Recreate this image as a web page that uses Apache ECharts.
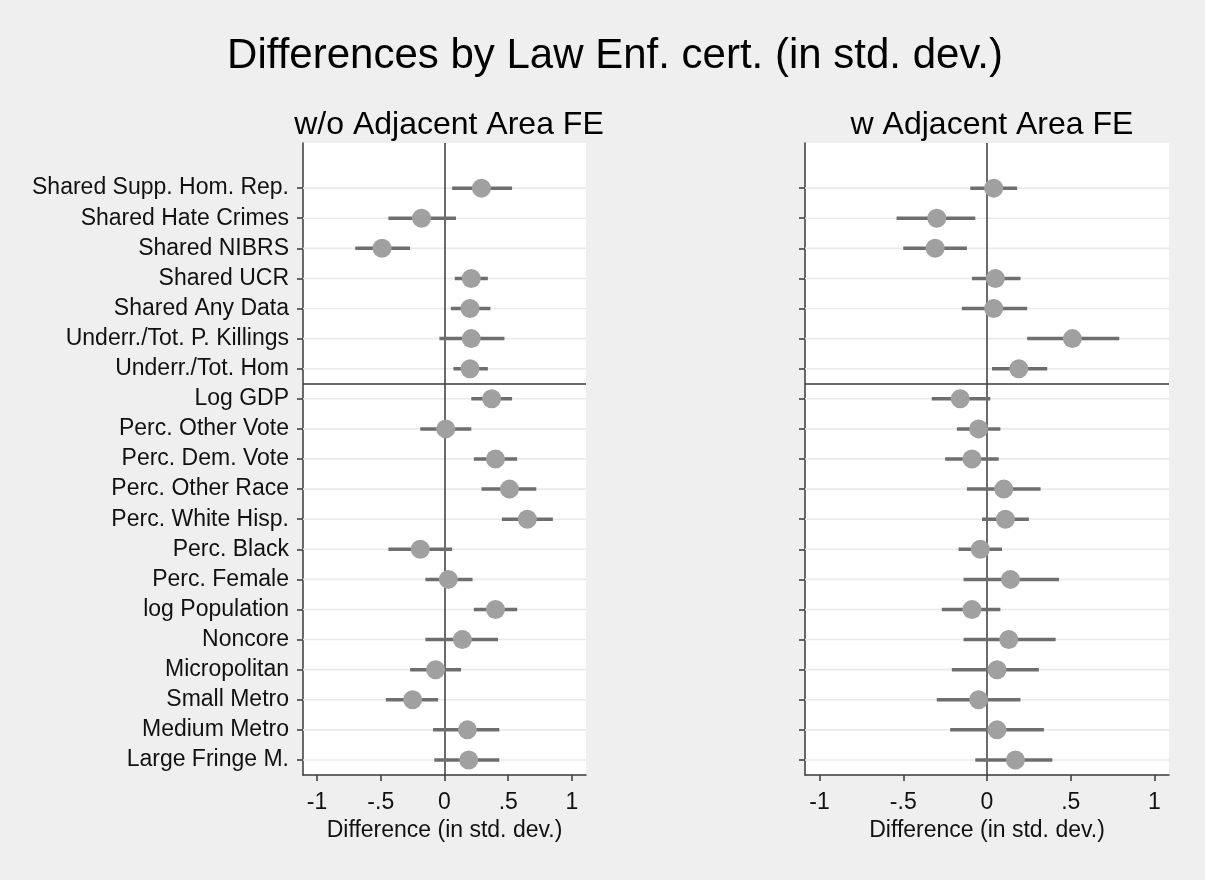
<!DOCTYPE html>
<html>
<head>
<meta charset="utf-8">
<script src="https://cdn.jsdelivr.net/npm/echarts@6/dist/echarts.min.js"></script>
<style>
html,body{margin:0;padding:0;background:#efefef;}
#chart{width:1205px;height:880px;}
</style>
</head>
<body>
<div id="chart"></div>
<script>
// ---- data ----
var categories = [
  "Shared Supp. Hom. Rep.", "Shared Hate Crimes", "Shared NIBRS", "Shared UCR",
  "Shared Any Data", "Underr./Tot. P. Killings", "Underr./Tot. Hom", "Log GDP",
  "Perc. Other Vote", "Perc. Dem. Vote", "Perc. Other Race", "Perc. White Hisp.",
  "Perc. Black", "Perc. Female", "log Population", "Noncore", "Micropolitan",
  "Small Metro", "Medium Metro", "Large Fringe M."
];
// panel 1: w/o Adjacent Area FE
var estLeft = [0.29, -0.18, -0.49, 0.21, 0.20, 0.21, 0.20, 0.37, 0.01, 0.40, 0.51, 0.65, -0.19, 0.03, 0.40, 0.14, -0.07, -0.25, 0.18, 0.19];
var loLeft  = [0.06, -0.44, -0.70, 0.08, 0.05, -0.04, 0.07, 0.21, -0.19, 0.23, 0.29, 0.45, -0.44, -0.15, 0.23, -0.15, -0.27, -0.46, -0.09, -0.08];
var hiLeft  = [0.53, 0.09, -0.27, 0.34, 0.36, 0.47, 0.34, 0.53, 0.21, 0.57, 0.72, 0.85, 0.06, 0.22, 0.57, 0.42, 0.13, -0.05, 0.43, 0.43];
// panel 2: w Adjacent Area FE
var estRight = [0.04, -0.30, -0.31, 0.05, 0.04, 0.51, 0.19, -0.16, -0.05, -0.09, 0.10, 0.11, -0.04, 0.14, -0.09, 0.13, 0.06, -0.05, 0.06, 0.17];
var loRight  = [-0.10, -0.54, -0.50, -0.09, -0.15, 0.24, 0.03, -0.33, -0.18, -0.25, -0.12, -0.03, -0.17, -0.14, -0.27, -0.14, -0.21, -0.30, -0.22, -0.07];
var hiRight  = [0.18, -0.07, -0.12, 0.20, 0.24, 0.79, 0.36, 0.02, 0.08, 0.07, 0.32, 0.25, 0.09, 0.43, 0.08, 0.41, 0.31, 0.20, 0.34, 0.39];
var xTicks = [-1, -0.5, 0, 0.5, 1];
var xTickLabels = ["-1", "-.5", "0", ".5", "1"];
var separatorAfter = 6.5;

var rowIdx = categories.map(function(c, i){ return i; });
var FONT = "Liberation Sans, Arial, sans-serif";

function ciData(lo, hi){ return lo.map(function(l, i){ return [l, hi[i], i]; }); }
function ptData(est){ return est.map(function(v, i){ return [v, i]; }); }

function ciSeries(idx, lo, hi){
  return {
    type: 'custom', xAxisIndex: idx, yAxisIndex: idx, z: 3,
    data: ciData(lo, hi),
    encode: {x: [0, 1], y: 2},
    renderItem: function(params, api){
      var a = api.coord([api.value(0), api.value(2)]);
      var b = api.coord([api.value(1), api.value(2)]);
      return {type: 'line', shape: {x1: a[0], y1: a[1], x2: b[0], y2: b[1]},
        style: {stroke: '#6e6e6e', lineWidth: 3.5}};
    }
  };
}
function ptSeries(idx, est){
  return {
    type: 'scatter', xAxisIndex: idx, yAxisIndex: idx, z: 4,
    data: ptData(est), symbol: 'circle', symbolSize: 19,
    itemStyle: {color: '#a0a0a0', opacity: 1},
    markLine: {
      silent: true, symbol: 'none', z: 2,
      label: {show: false},
      lineStyle: {color: '#3a3a3a', width: 1.5, type: 'solid'},
      data: [{xAxis: 0}, {yAxis: separatorAfter}]
    }
  };
}
function gridLinesSeries(idx){
  return {
    type: 'custom', xAxisIndex: idx, yAxisIndex: idx, z: 1, silent: true,
    data: rowIdx.map(function(i){ return [i]; }),
    encode: {y: 0},
    renderItem: function(params, api){
      var cs = params.coordSys;
      var p = api.coord([0, api.value(0)]);
      return {type: 'line', shape: {x1: cs.x, y1: p[1], x2: cs.x + cs.width, y2: p[1]},
        style: {stroke: '#eaeaea', lineWidth: 1.6}};
    }
  };
}

function xAxis(idx, lim){
  return {
    type: 'value', gridIndex: idx, min: -lim, max: lim,
    name: 'Difference (in std. dev.)', nameLocation: 'middle', nameGap: 39,
    nameTextStyle: {fontFamily: FONT, fontSize: 23, lineHeight: 23, color: '#111'},
    axisLine: {show: true, onZero: false, lineStyle: {color: '#3a3a3a', width: 1.5}},
    axisTick: {show: true, customValues: xTicks, length: 6, lineStyle: {color: '#3a3a3a', width: 1.5}},
    axisLabel: {customValues: xTicks, fontFamily: FONT, fontSize: 23, lineHeight: 18, color: '#111', margin: 19,
      formatter: function(v){ var k = xTicks.indexOf(v); return k >= 0 ? xTickLabels[k] : ''; }},
    splitLine: {show: false}
  };
}
function yAxis(idx, showLabels){
  return {
    type: 'value', gridIndex: idx, inverse: true, min: -1.5, max: 19.5,
    axisLine: {show: true, onZero: false, lineStyle: {color: '#3a3a3a', width: 1.5}},
    axisTick: {show: true, customValues: rowIdx, length: 6, lineStyle: {color: '#3a3a3a', width: 1.5}},
    axisLabel: {show: showLabels, customValues: rowIdx, fontFamily: FONT, fontSize: 23, color: '#111', margin: 14,
      formatter: function(v){ return categories[v] !== undefined ? categories[v] : ''; }},
    splitLine: {show: false}
  };
}

var chart = echarts.init(document.getElementById('chart'), null, {renderer: 'canvas'});
chart.setOption({
  backgroundColor: '#efefef',
  animation: false,
  title: [
    {text: 'Differences by Law Enf. cert. (in std. dev.)', left: 610, top: 30, textAlign: 'center',
      textStyle: {fontFamily: FONT, fontSize: 42, fontWeight: 'normal', color: '#000'}},
    {text: 'w/o Adjacent Area FE', left: 444, top: 104, textAlign: 'center',
      textStyle: {fontFamily: FONT, fontSize: 32, fontWeight: 'normal', color: '#000'}},
    {text: 'w Adjacent Area FE', left: 987, top: 104, textAlign: 'center',
      textStyle: {fontFamily: FONT, fontSize: 32, fontWeight: 'normal', color: '#000'}}
  ],
  grid: [
    {left: 303, top: 143, width: 283, height: 632, backgroundColor: '#ffffff', show: true, borderWidth: 0},
    {left: 805, top: 143, width: 364, height: 632, backgroundColor: '#ffffff', show: true, borderWidth: 0}
  ],
  xAxis: [xAxis(0, 1.11), xAxis(1, 1.087)],
  yAxis: [yAxis(0, true), yAxis(1, false)],
  series: [
    gridLinesSeries(0), ciSeries(0, loLeft, hiLeft), ptSeries(0, estLeft),
    gridLinesSeries(1), ciSeries(1, loRight, hiRight), ptSeries(1, estRight)
  ]
});
</script>
</body>
</html>
